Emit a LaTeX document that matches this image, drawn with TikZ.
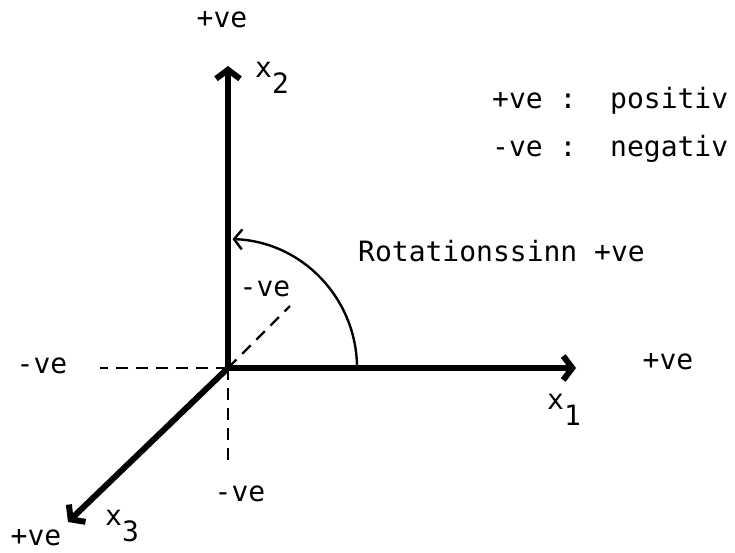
\documentclass[tikz,border=0pt]{standalone}
\usepackage{fontspec}
\setmainfont{DejaVu Sans Mono}
\usetikzlibrary{arrows.meta,calc,positioning}
\definecolor{Ink}{HTML}{000000}

\begin{document}
\begin{tikzpicture}[
  x=1pt,y=-1pt,
  axis/.style={draw=Ink,line width=6pt,-{Straight Barb[length=9pt,width=24pt,line width=6pt]}},
  neg/.style={draw=Ink,line width=2.2pt,dash pattern=on 12pt off 8pt},
  rot/.style={draw=Ink,line width=2.4pt,-{Straight Barb[length=8pt,width=20pt]}},
  lbl/.style={font=\fontsize{28}{32}\selectfont,inner sep=0pt,text=Ink}
]
  \useasboundingbox (0,0) rectangle (735,552);
  % origin and axis ends
  \coordinate (o) at (228,368);
  \coordinate (e1) at (576,368);
  \coordinate (e2) at (228,66);
  \coordinate (e3) at (68,522);
  \coordinate (n1) at (100,368);
  \coordinate (n2) at (228,466);
  \coordinate (n3) at (290,306);
  \coordinate (r0) at (357,368);

  \draw[neg] (o) -- (n1);
  \draw[neg] (o) -- (n2);
  \draw[neg] (o) -- (n3);
  \draw[axis] (o) -- (e1);
  \draw[axis] (o) -- (e2);
  \draw[axis] (o) -- (e3);
  \draw[rot] (r0) arc[start angle=0,end angle=-88,radius=129];

  \node[lbl] (x1) at (564,410) {x\raisebox{-0.55em}{1}};
  \node[lbl] (x2) at (272,78) {x\raisebox{-0.55em}{2}};
  \node[lbl] (x3) at (122,526) {x\raisebox{-0.55em}{3}};
  \node[lbl] (p1) at (668,362) {+ve};
  \node[lbl] (p2) at (222,20) {+ve};
  \node[lbl] (p3) at (36,538) {+ve};
  \node[lbl] (m1) at (42,366) {-ve};
  \node[lbl] (m2) at (240,494) {-ve};
  \node[lbl] (m3) at (265,289) {-ve};
  \node[lbl,anchor=west] (rs) at (358,251) {Rotationssinn +ve};
  \node[lbl,anchor=west] (kp) at (492,101) {+ve :\ \ positiv};
  \node[lbl,anchor=west] (kn) at (492,149) {-ve :\ \ negativ};
\end{tikzpicture}
\end{document}
